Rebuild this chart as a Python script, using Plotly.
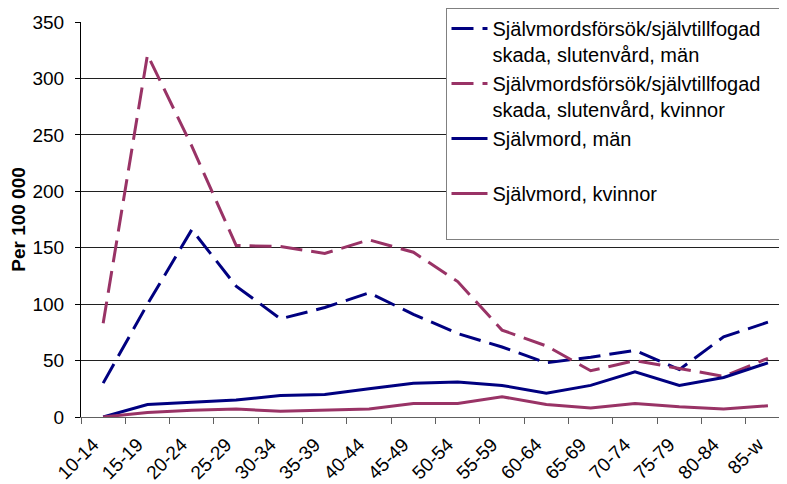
import plotly.graph_objects as go

categories = ["10-14", "15-19", "20-24", "25-29", "30-34", "35-39", "40-44", "45-49",
              "50-54", "55-59", "60-64", "65-69", "70-74", "75-79", "80-84", "85-w"]

attempt_men = [30, 100, 166, 116, 87, 97, 110, 91, 74, 62, 48, 53, 59, 42, 71, 84]
attempt_women = [83, 321, 240, 152, 151, 145, 157, 146, 120, 77, 63, 41, 50, 43, 36, 52]
suicide_men = [0, 11, 13, 15, 19, 20, 25, 30, 31, 28, 21, 28, 40, 28, 35, 48]
suicide_women = [0, 4, 6, 7, 5, 6, 7, 12, 12, 18, 11, 8, 12, 9, 7, 10]

PAD = "&nbsp;" * 8  # legend box runs past the right edge, as in the original
names = [
    "Självmordsförsök/självtillfogad" + PAD + "<br>skada, slutenvård, män",
    "Självmordsförsök/självtillfogad" + PAD + "<br>skada, slutenvård, kvinnor",
    "Självmord, män<br> ",
    "Självmord, kvinnor<br> ",
]

y_ticks = [0, 50, 100, 150, 200, 250, 300, 350]

NAVY = "#000080"
PURPLE = "#993366"
DASH = "22px,9px"
FONT = "Liberation Sans, Arial, sans-serif"

# the page body has an 8px default margin; compensate so the plot lands where intended
OFF = 8

fig = go.Figure()
fig.add_trace(go.Scatter(x=categories, y=attempt_men, name=names[0], mode="lines",
                         line=dict(color=NAVY, width=3, dash=DASH)))
fig.add_trace(go.Scatter(x=categories, y=attempt_women, name=names[1], mode="lines",
                         line=dict(color=PURPLE, width=3, dash=DASH)))
fig.add_trace(go.Scatter(x=categories, y=suicide_men, name=names[2], mode="lines",
                         line=dict(color=NAVY, width=3)))
fig.add_trace(go.Scatter(x=categories, y=suicide_women, name=names[3], mode="lines",
                         line=dict(color=PURPLE, width=3)))

fig.update_layout(
    width=787, height=484,
    margin=dict(l=81 - OFF, r=OFF, t=22 - OFF, b=484 - (417 - OFF), autoexpand=False),
    paper_bgcolor="white", plot_bgcolor="white",
    font=dict(family=FONT, color="black", size=19),
    showlegend=True,
    legend=dict(
        xref="container", yref="container",
        x=(445.5 - OFF) / 787, y=1 + (OFF - 4) / 484, xanchor="left", yanchor="top",
        bgcolor="white", bordercolor="#808080", borderwidth=1,
        font=dict(size=20, family=FONT, color="black"),
        valign="top", itemwidth=36, tracegroupgap=0,
    ),
    xaxis=dict(
        type="category", range=[-0.5, 15.43],
        showgrid=False, zeroline=False,
        showline=True, linecolor="#606060", linewidth=1,
        ticks="outside", ticklen=6, tickcolor="#606060", tickson="boundaries",
        tickangle=-45, tickfont=dict(size=19),
        ticklabelstandoff=8, ticklabelshift=-10,
    ),
    yaxis=dict(
        range=[0, 350], tickvals=y_ticks,
        showgrid=True, gridcolor="#202020", gridwidth=1,
        zeroline=False,
        showline=True, linecolor="black", linewidth=1,
        ticks="outside", ticklen=5, tickcolor="black",
        ticklabelstandoff=7,
        tickfont=dict(size=19),
        title=dict(text="<b>Per 100 000</b>", font=dict(size=19), standoff=1),
    ),
)

fig.write_html("out.html")
